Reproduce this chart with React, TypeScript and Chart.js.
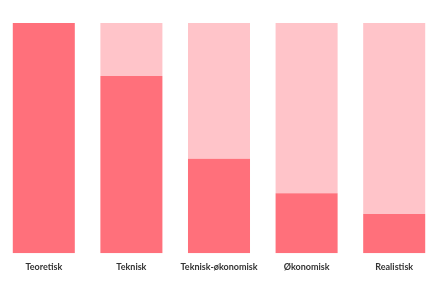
import React, { useEffect, useRef } from "react";
import { Chart, registerables } from "chart.js";

Chart.register(...registerables);

const categories = ["Teoretisk", "Teknisk", "Teknisk-økonomisk", "Økonomisk", "Realistisk"];
const achieved = [100, 77, 41, 26, 17];
const remaining = [0, 23, 59, 74, 83];

export default function App() {
  const ref = useRef<HTMLCanvasElement | null>(null);
  useEffect(() => {
    document.body.style.margin = "0";
    if (!ref.current) return;
    const chart = new Chart(ref.current, {
      type: "bar",
      data: {
        labels: categories,
        datasets: [
          {
            label: "Achieved",
            data: achieved,
            backgroundColor: "#FF707B",
            borderWidth: 0,
            barPercentage: 1,
            categoryPercentage: 0.708,
          },
          {
            label: "Remaining",
            data: remaining,
            backgroundColor: "#FFC4C9",
            borderWidth: 0,
            barPercentage: 1,
            categoryPercentage: 0.708,
          },
        ],
      },
      options: {
        animation: false,
        responsive: false,
        maintainAspectRatio: false,
        layout: { padding: { top: 23, bottom: 20, left: 0, right: 0 } },
        plugins: { legend: { display: false }, tooltip: { enabled: false } },
        scales: {
          x: {
            stacked: true,
            grid: { display: false },
            border: { display: false },
            ticks: {
              padding: 0,
              color: "#333333",
              font: { family: "Lato", size: 9, weight: "bold" },
              maxRotation: 0,
              autoSkip: false,
            },
          },
          y: {
            stacked: true,
            display: false,
            min: 0,
            max: 100,
          },
        },
      },
    });
    return () => chart.destroy();
  }, []);
  return (
    <div style={{ width: 438, height: 292 }}>
      <canvas ref={ref} width={438} height={292} style={{ display: "block" }} />
    </div>
  );
}
